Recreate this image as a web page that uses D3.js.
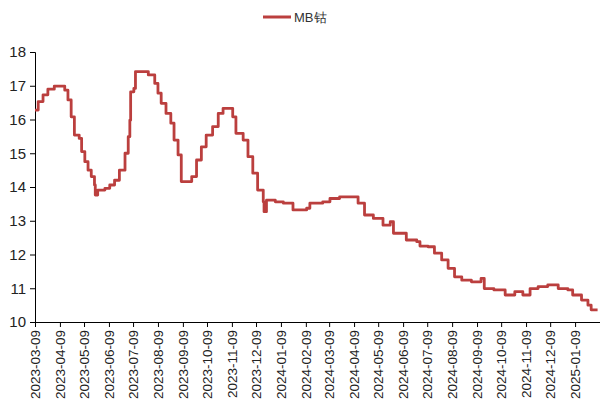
<!DOCTYPE html>
<html><head><meta charset="utf-8">
<script src="https://cdn.jsdelivr.net/npm/d3@7"></script>
<style>body{margin:0;background:#fff}svg{display:block}</style>
</head><body>
<script>
const dates = ["2023-03-09","2023-03-13","2023-03-19","2023-03-25","2023-04-02","2023-04-11","2023-04-15","2023-04-19","2023-04-23","2023-04-27","2023-05-03","2023-05-06","2023-05-10","2023-05-14","2023-05-18","2023-05-22","2023-05-23","2023-05-26","2023-06-04","2023-06-10","2023-06-16","2023-06-22","2023-06-29","2023-07-03","2023-07-05","2023-07-06","2023-07-10","2023-07-12","2023-07-21","2023-07-28","2023-08-01","2023-08-05","2023-08-09","2023-08-13","2023-08-19","2023-08-25","2023-08-29","2023-09-03","2023-09-07","2023-09-13","2023-09-20","2023-09-26","2023-10-02","2023-10-08","2023-10-16","2023-10-23","2023-10-29","2023-11-06","2023-11-10","2023-11-14","2023-11-23","2023-11-29","2023-12-05","2023-12-11","2023-12-18","2023-12-19","2023-12-22","2024-01-02","2024-01-12","2024-01-24","2024-02-10","2024-02-14","2024-03-01","2024-03-10","2024-03-22","2024-04-04","2024-04-14","2024-04-22","2024-05-03","2024-05-15","2024-05-24","2024-05-28","2024-06-13","2024-06-26","2024-06-30","2024-07-10","2024-07-18","2024-07-27","2024-08-04","2024-08-12","2024-08-21","2024-09-02","2024-09-14","2024-09-18","2024-09-30","2024-10-14","2024-10-26","2024-11-05","2024-11-14","2024-11-24","2024-12-06","2024-12-19","2024-12-31","2025-01-06","2025-01-17","2025-01-25","2025-01-29","2025-02-06"];
const values = [16.28,16.53,16.73,16.9,16.99,16.99,16.87,16.58,16.08,15.54,15.44,15.05,14.75,14.5,14.31,14.06,13.76,13.91,13.96,14.06,14.2,14.5,15.0,15.49,15.98,16.82,16.92,17.42,17.42,17.32,17.32,17.07,16.78,16.48,16.18,15.89,15.39,14.95,14.16,14.16,14.31,14.8,15.19,15.54,15.79,16.18,16.33,16.33,16.08,15.59,15.39,14.9,14.41,13.91,13.56,13.27,13.61,13.56,13.52,13.32,13.37,13.52,13.56,13.66,13.71,13.71,13.52,13.17,13.07,12.87,12.97,12.63,12.43,12.38,12.25,12.23,12.04,11.84,11.59,11.34,11.24,11.19,11.29,10.99,10.95,10.8,10.9,10.8,10.99,11.05,11.1,10.99,10.95,10.8,10.65,10.5,10.36,10.36];
const xTickLabels = ["2023-03-09","2023-04-09","2023-05-09","2023-06-09","2023-07-09","2023-08-09","2023-09-09","2023-10-09","2023-11-09","2023-12-09","2024-01-09","2024-02-09","2024-03-09","2024-04-09","2024-05-09","2024-06-09","2024-07-09","2024-08-09","2024-09-09","2024-10-09","2024-11-09","2024-12-09","2025-01-09"];
const yTicks = [10,11,12,13,14,15,16,17,18];
const seriesName = "MB钴";

const W = 600, H = 419;
const parse = d3.timeParse("%Y-%m-%d");
const data = dates.map((d,i)=>({date:parse(d), value:values[i]}));

const svg = d3.select("body").append("svg").attr("width",W).attr("height",H)
  .style("font-family","Arial, 'Liberation Sans', sans-serif");

const x = d3.scaleTime().domain([parse("2023-03-09"), parse("2025-02-09")]).range([35, 600]);
const y = d3.scaleLinear().domain([10,18]).range([322, 52]);

const color = "#BB3F3E";

// y axis
const yAx = svg.append("g").attr("transform","translate(35,0)")
  .call(d3.axisLeft(y).tickValues(yTicks).tickSize(5).tickPadding(4).tickFormat(d3.format("d")));
yAx.select(".domain").attr("stroke","#000").attr("stroke-width",1);
yAx.selectAll(".tick line").attr("stroke","#000");
yAx.selectAll("text").attr("font-size",15).attr("fill","#222").attr("font-family","Arial, 'Liberation Sans', sans-serif");

// x axis
const xAx = svg.append("g").attr("transform","translate(0,322)")
  .call(d3.axisBottom(x).tickValues(xTickLabels.map(parse)).tickSize(5).tickSizeOuter(0).tickFormat(d3.timeFormat("%Y-%m-%d")));
xAx.select(".domain").attr("stroke","#000").attr("stroke-width",1);
xAx.selectAll(".tick line").attr("stroke","#000");
xAx.selectAll("text").attr("font-size",13.5).attr("fill","#222")
  .attr("font-family","Arial, 'Liberation Sans', sans-serif")
  .attr("text-anchor","end").attr("dy","0.35em").attr("dx",0)
  .attr("transform","translate(0,8) rotate(-90)").attr("x",0).attr("y",0);

// line
svg.append("path").datum(data)
  .attr("fill","none").attr("stroke",color).attr("stroke-width",2.8)
  .attr("stroke-linejoin","round")
  .attr("d", d3.line().curve(d3.curveStepAfter).x(d=>x(d.date)).y(d=>y(d.value)));

// legend
const lg = svg.append("g");
lg.append("line").attr("x1",263).attr("x2",291).attr("y1",17).attr("y2",17).attr("stroke",color).attr("stroke-width",3);
lg.append("text").attr("x",294).attr("y",22).attr("font-size",13).attr("fill","#333").text(seriesName);
</script>
</body></html>
